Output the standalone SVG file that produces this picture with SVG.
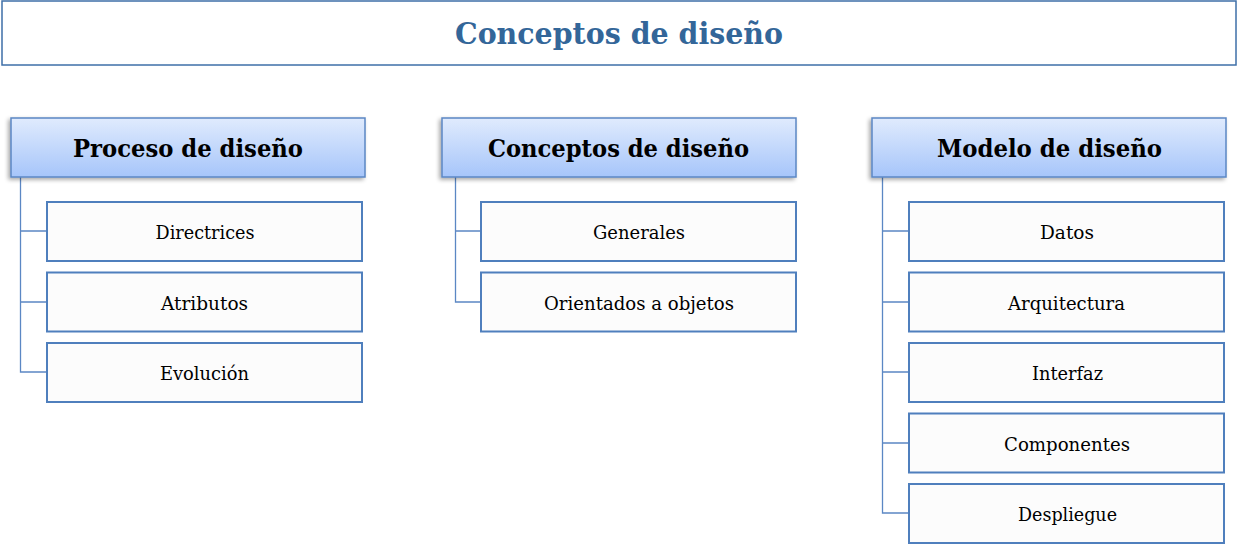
<svg xmlns="http://www.w3.org/2000/svg" width="1237" height="545" viewBox="0 0 1237 545">
<defs>
<linearGradient id="hg" x1="0" y1="0" x2="0" y2="1">
<stop offset="0" stop-color="#e0ebfd"/>
<stop offset="1" stop-color="#a6c5fa"/>
</linearGradient>
<filter id="sh" x="-5%" y="-10%" width="110%" height="130%">
<feGaussianBlur in="SourceAlpha" stdDeviation="2"/>
<feOffset dx="-2" dy="2" result="b"/>
<feComponentTransfer><feFuncA type="linear" slope="0.35"/></feComponentTransfer>
<feMerge><feMergeNode/><feMergeNode in="SourceGraphic"/></feMerge>
</filter>
</defs>
<style>
.title{fill:#fff;stroke:#3e6fa8;stroke-width:1.5}
.tt{font-family:"DejaVu Serif","Liberation Serif",serif;font-weight:bold;font-size:29px;fill:#336699;text-anchor:middle}
.hd{fill:url(#hg);stroke:#5b87c4;stroke-width:1.5}
.ht{font-family:"DejaVu Serif","Liberation Serif",serif;font-weight:bold;font-size:24px;fill:#000;text-anchor:middle}
.ch{fill:#fcfcfc;stroke:#4f7fbd;stroke-width:2}
.ct{font-family:"DejaVu Serif","Liberation Serif",serif;font-size:18px;fill:#000;text-anchor:middle}
.cn{fill:none;stroke:#5b87c4;stroke-width:1.3}
</style>
<g id="title">
<rect class="title" x="2" y="1" width="1234" height="64"/>
<text class="tt" x="619" y="44" textLength="328" lengthAdjust="spacingAndGlyphs">Conceptos de diseño</text>
</g>
<g id="connectors">
<path class="cn" d="M20.5 177 V372 H47 M20.5 231 H47 M20.5 302 H47"/>
<path class="cn" d="M455.5 177 V302 H481 M455.5 231 H481"/>
<path class="cn" d="M882.5 177 V513 H909 M882.5 231 H909 M882.5 302 H909 M882.5 372 H909 M882.5 443 H909"/>
</g>
<g id="h1"><rect class="hd" filter="url(#sh)" x="11" y="118" width="354" height="59"/><text class="ht" x="188" y="157" textLength="230" lengthAdjust="spacingAndGlyphs">Proceso de diseño</text></g>
<g id="h2"><rect class="hd" filter="url(#sh)" x="442" y="118" width="354" height="59"/><text class="ht" x="618.5" y="157" textLength="261" lengthAdjust="spacingAndGlyphs">Conceptos de diseño</text></g>
<g id="h3"><rect class="hd" filter="url(#sh)" x="872" y="118" width="354" height="59"/><text class="ht" x="1049.5" y="157" textLength="225" lengthAdjust="spacingAndGlyphs">Modelo de diseño</text></g>
<g id="c1"><rect class="ch" x="47" y="202" width="315" height="59"/><text class="ct" x="205" y="239" textLength="99" lengthAdjust="spacingAndGlyphs">Directrices</text></g>
<g id="c2"><rect class="ch" x="47" y="272.5" width="315" height="59"/><text class="ct" x="204.5" y="309.5" textLength="87" lengthAdjust="spacingAndGlyphs">Atributos</text></g>
<g id="c3"><rect class="ch" x="47" y="343" width="315" height="59"/><text class="ct" x="204.5" y="380" textLength="89" lengthAdjust="spacingAndGlyphs">Evolución</text></g>
<g id="c4"><rect class="ch" x="481" y="202" width="315" height="59"/><text class="ct" x="639" y="239" textLength="92" lengthAdjust="spacingAndGlyphs">Generales</text></g>
<g id="c5"><rect class="ch" x="481" y="272.5" width="315" height="59"/><text class="ct" x="639" y="309.5" textLength="190" lengthAdjust="spacingAndGlyphs">Orientados a objetos</text></g>
<g id="c6"><rect class="ch" x="909" y="202" width="315" height="59"/><text class="ct" x="1067" y="239" textLength="54" lengthAdjust="spacingAndGlyphs">Datos</text></g>
<g id="c7"><rect class="ch" x="909" y="272.5" width="315" height="59"/><text class="ct" x="1066.5" y="309.5" textLength="117" lengthAdjust="spacingAndGlyphs">Arquitectura</text></g>
<g id="c8"><rect class="ch" x="909" y="343" width="315" height="59"/><text class="ct" x="1067.5" y="380" textLength="71" lengthAdjust="spacingAndGlyphs">Interfaz</text></g>
<g id="c9"><rect class="ch" x="909" y="413.5" width="315" height="59"/><text class="ct" x="1067" y="450.5" textLength="126" lengthAdjust="spacingAndGlyphs">Componentes</text></g>
<g id="c10"><rect class="ch" x="909" y="484" width="315" height="59"/><text class="ct" x="1067.5" y="521" textLength="99" lengthAdjust="spacingAndGlyphs">Despliegue</text></g>
</svg>
